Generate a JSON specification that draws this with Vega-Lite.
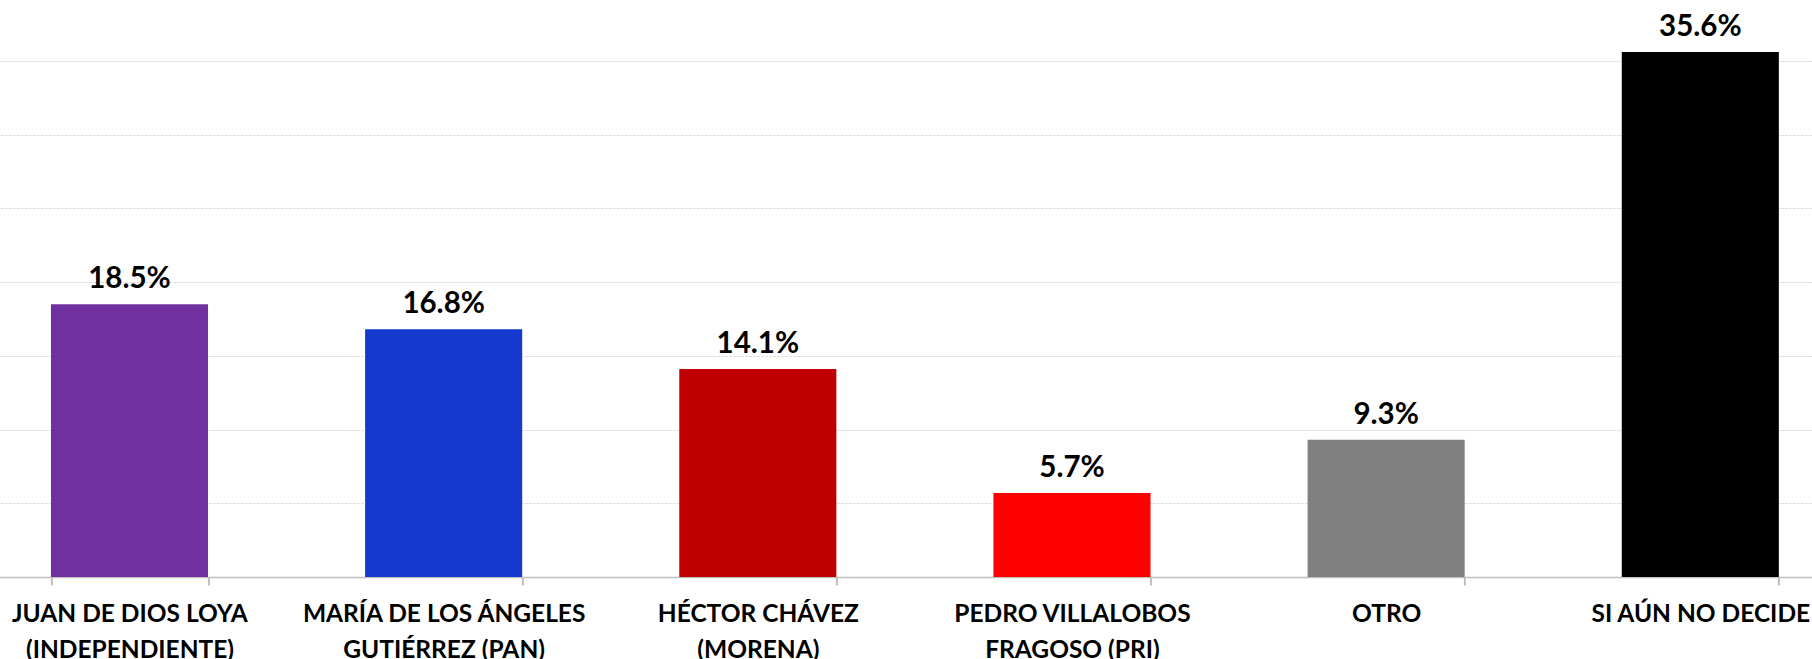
{
  "$schema": "https://vega.github.io/schema/vega-lite/v6.json",
  "autosize": {"type": "none"},
  "width": 1885,
  "height": 577,
  "padding": {"left": -27.6, "right": -45.4, "top": 0, "bottom": 82},
  "background": "white",
  "config": {"view": {"stroke": null}, "font": "Lato"},
  "data": {
    "values": [
      {"candidato": "JUAN DE DIOS LOYA\n(INDEPENDIENTE)", "pct": 0.185},
      {"candidato": "MARÍA DE LOS ÁNGELES\nGUTIÉRREZ (PAN)", "pct": 0.168},
      {"candidato": "HÉCTOR CHÁVEZ\n(MORENA)", "pct": 0.141},
      {"candidato": "PEDRO VILLALOBOS\nFRAGOSO (PRI)", "pct": 0.057},
      {"candidato": "OTRO", "pct": 0.093},
      {"candidato": "SI AÚN NO DECIDE", "pct": 0.356}
    ]
  },
  "encoding": {
    "x": {
      "field": "candidato",
      "type": "nominal",
      "sort": null,
      "scale": {"paddingInner": 0.5, "paddingOuter": 0.25},
      "axis": {
        "title": null,
        "labelAngle": 0,
        "labelExpr": "split(datum.label, '\\n')",
        "labelFont": "Lato",
        "labelFontSize": 24.5,
        "labelFontWeight": "bold",
        "labelColor": "#000000",
        "labelLineHeight": 36,
        "labelBaseline": "top",
        "labelPadding": 17,
        "labelLimit": 400,
        "tickBand": "extent",
        "tickSize": 8,
        "tickWidth": 2,
        "tickColor": "#bfbfbf",
        "domainColor": "#bfbfbf",
        "domainWidth": 1.7,
        "grid": false
      }
    },
    "y": {
      "field": "pct",
      "type": "quantitative",
      "scale": {"domain": [0, 0.3912], "nice": false},
      "axis": {
        "title": null,
        "labels": false,
        "ticks": false,
        "domain": false,
        "values": [0.05, 0.1, 0.15, 0.2, 0.25, 0.3, 0.35],
        "grid": true,
        "gridColor": "#dedede",
        "gridDash": [3, 1],
        "gridWidth": 1
      }
    }
  },
  "layer": [
    {
      "mark": {"type": "bar"},
      "encoding": {
        "color": {
          "field": "candidato",
          "type": "nominal",
          "legend": null,
          "scale": {
            "domain": [
              "JUAN DE DIOS LOYA\n(INDEPENDIENTE)",
              "MARÍA DE LOS ÁNGELES\nGUTIÉRREZ (PAN)",
              "HÉCTOR CHÁVEZ\n(MORENA)",
              "PEDRO VILLALOBOS\nFRAGOSO (PRI)",
              "OTRO",
              "SI AÚN NO DECIDE"
            ],
            "range": ["#7030A0", "#1539CF", "#C00000", "#FF0000", "#808080", "#000000"]
          }
        }
      }
    },
    {
      "mark": {
        "type": "text",
        "baseline": "alphabetic",
        "dy": -16,
        "font": "Lato",
        "fontSize": 29.5,
        "fontWeight": "bold",
        "color": "#000000"
      },
      "encoding": {
        "text": {"field": "pct", "type": "quantitative", "format": ".1%"}
      }
    }
  ]
}
